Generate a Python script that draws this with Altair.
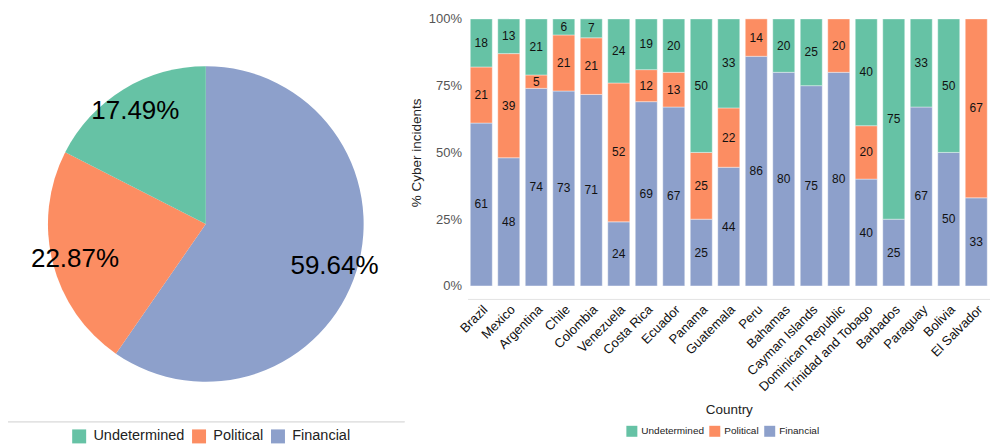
import altair as alt
import pandas as pd

# ---- data ----
pie_types = ["Financial", "Political", "Undetermined"]
pie_pct = [59.64, 22.87, 17.49]

countries = ["Brazil", "Mexico", "Argentina", "Chile", "Colombia", "Venezuela",
             "Costa Rica", "Ecuador", "Panama", "Guatemala", "Peru", "Bahamas",
             "Cayman Islands", "Dominican Republic", "Trinidad and Tobago",
             "Barbados", "Paraguay", "Bolivia", "El Salvador"]
financial = [61, 48, 74, 73, 71, 24, 69, 67, 25, 44, 86, 80, 75, 80, 40, 25, 67, 50, 33]
political = [21, 39, 5, 21, 21, 52, 12, 13, 25, 22, 14, 0, 0, 20, 20, 0, 0, 0, 67]
undetermined = [18, 13, 21, 6, 7, 24, 19, 20, 50, 33, 0, 20, 25, 0, 40, 75, 33, 50, 0]

legend_order = ["Undetermined", "Political", "Financial"]
colors = ["#66c2a5", "#fc8d62", "#8da0cb"]
stack_rank = {"Financial": 0, "Political": 1, "Undetermined": 2}

FONT = "Liberation Sans"

# ---- pie ----
pie_df = pd.DataFrame({"type": pie_types, "pct": pie_pct,
                       "rank": [stack_rank[t] for t in pie_types]})
pie_df["label"] = pie_df["pct"].map(lambda v: f"{v:.2f}%")

cx, cy = 206, 224
pie_color = alt.Color("type:N",
                      scale=alt.Scale(domain=legend_order, range=colors),
                      legend=alt.Legend(title=None, orient="none", direction="horizontal",
                                        legendX=72, legendY=429, padding=0,
                                        symbolType="square", symbolSize=196,
                                        symbolStrokeWidth=0,
                                        labelFont=FONT, labelFontSize=14.5, labelColor="#222",
                                        labelOffset=7, columnPadding=7))

pie_base = alt.Chart(pie_df).encode(
    theta=alt.Theta("pct:Q", stack=True),
    order=alt.Order("rank:Q"),
)
arcs = pie_base.mark_arc(outerRadius=158).encode(
    color=pie_color, x=alt.value(cx), y=alt.value(cy))
pie_text = pie_base.mark_text(radius=135, font=FONT, fontSize=26, color="#000", dy=2).encode(
    text="label:N", x=alt.value(cx), y=alt.value(cy))
pie_rule = alt.Chart(pie_df).mark_rule(color="#e3e3e3", strokeWidth=1).encode(
    x=alt.value(8), x2=alt.value(405), y=alt.value(422))

pie = alt.layer(arcs, pie_text, pie_rule).properties(width=405, height=422)

# ---- bars ----
rows = []
for i, c in enumerate(countries):
    for t, vals in (("Financial", financial), ("Political", political), ("Undetermined", undetermined)):
        rows.append({"country": c, "type": t, "value": vals[i], "rank": stack_rank[t]})
bar_df = pd.DataFrame(rows)

H = 286
TOP = 18.7
bar_base = alt.Chart(bar_df).transform_filter(
    alt.datum.value > 0
).transform_stack(
    stack="value", groupby=["country"], as_=["y0", "y1"], offset="normalize",
    sort=[alt.SortField("rank", order="ascending")]
).transform_calculate(mid="(datum.y0 + datum.y1) / 2")

xenc = alt.X("country:N", sort=countries, title="Country",
             scale=alt.Scale(paddingInner=0.2, paddingOuter=0.1),
             axis=alt.Axis(labelAngle=-45, labelFont=FONT, labelFontSize=13, labelColor="#111",
                           titleFont=FONT, titleFontSize=13.5, titleFontWeight="normal",
                           titleColor="#222", titlePadding=7,
                           ticks=False, offset=13, domainColor="#e3e3e3", labelPadding=4))
yscale = alt.Scale(domain=[0, 1], range=[H, TOP])

bars = bar_base.mark_bar(stroke="white", strokeWidth=0.8, strokeOpacity=0.5).encode(
    x=xenc,
    y=alt.Y("y0:Q", scale=yscale, title="% Cyber incidents",
            axis=alt.Axis(format=".0%", values=[0, 0.25, 0.5, 0.75, 1], grid=False,
                          domain=False, ticks=False, labelFont=FONT, labelFontSize=13,
                          labelColor="#555", labelPadding=6,
                          titleFont=FONT, titleFontSize=13.5, titleFontWeight="normal",
                          titleColor="#222", titlePadding=5)),
    y2="y1:Q",
    color=alt.Color("type:N", scale=alt.Scale(domain=legend_order, range=colors),
                    legend=alt.Legend(title=None, orient="none", direction="horizontal",
                                      legendX=159, legendY=426, padding=0,
                                      symbolType="square", symbolSize=121, symbolStrokeWidth=0,
                                      labelFont=FONT, labelFontSize=10, labelColor="#222",
                                      labelOffset=4, columnPadding=5)),
)
bar_text = bar_base.mark_text(font=FONT, fontSize=12, color="#111").encode(
    x=alt.X("country:N", sort=countries),
    y=alt.Y("mid:Q", scale=yscale),
    text="value:Q",
)
bar_chart = alt.layer(bars, bar_text).properties(width=523, height=H)

chart = alt.hconcat(pie, bar_chart, spacing=3).resolve_scale(color="independent").configure(
    padding=0
).configure_view(stroke=None)

chart.save("out.html", embed_options={"renderer": "svg", "actions": False})
